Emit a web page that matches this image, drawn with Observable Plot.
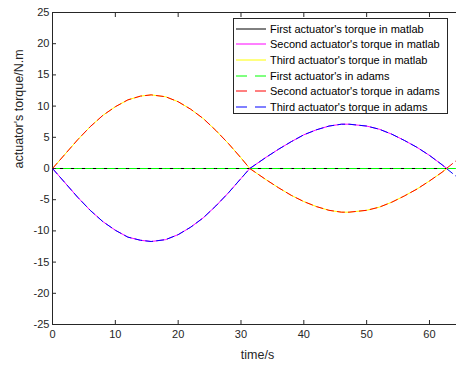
<!DOCTYPE html>
<html><head><meta charset="utf-8">
<script src="https://cdn.jsdelivr.net/npm/d3@7"></script>
<script src="https://cdn.jsdelivr.net/npm/@observablehq/plot@0.6"></script>
<style>
body{margin:0;background:#fff;font-family:"Liberation Sans",Arial,sans-serif;}
#wrap{position:relative;width:456px;height:369px;overflow:hidden;}
#legend{position:absolute;left:233px;top:18px;width:215px;height:96px;border:1px solid #262626;background:#fff;box-sizing:border-box;padding-top:2px;}
.row{height:15.6px;display:flex;align-items:center;font-size:11px;color:#000;white-space:nowrap;}
.row svg{margin:0 3px 0 1px;flex:none}
</style></head><body><div id="wrap"></div>
<script>
// ---- data ----
const timeMatlab = [0,2,4,6,8,10,12,14,15.7,18,20,22,24,26,28,30,31.4,34,36,38,40,42,44,46,47.2,50,52,54,56,58,60,62,62.8];
const firstMatlab  = [0,0,0,0,0,0,0,0,0,0,0,0,0,0,0,0,0,0,0,0,0,0,0,0,0,0,0,0,0,0,0,0,0];
const secondMatlab = [0,-2.3,-4.6,-6.7,-8.5,-9.9,-11.0,-11.5,-11.7,-11.4,-10.6,-9.4,-7.9,-6.0,-3.9,-1.6,0,1.8,3.1,4.3,5.4,6.2,6.8,7.1,7.1,6.8,6.3,5.5,4.5,3.4,2.1,0.6,0];
const thirdMatlab  = [0,2.3,4.6,6.7,8.5,9.9,11.0,11.6,11.8,11.5,10.7,9.5,8.0,6.1,4.0,1.7,0,-1.8,-3.1,-4.3,-5.3,-6.1,-6.7,-7.0,-7.0,-6.7,-6.2,-5.4,-4.4,-3.3,-2.0,-0.6,0];

const timeAdams = [0,2,4,6,8,10,12,14,15.7,18,20,22,24,26,28,30,31.4,34,36,38,40,42,44,46,47.2,50,52,54,56,58,60,62,62.7,64.3];
const firstAdams  = [0,0,0,0,0,0,0,0,0,0,0,0,0,0,0,0,0,0,0,0,0,0,0,0,0,0,0,0,0,0,0,0,0,0];
const secondAdams = [0,2.3,4.6,6.7,8.5,9.9,11.0,11.6,11.8,11.5,10.7,9.5,8.0,6.1,4.0,1.7,0,-1.8,-3.1,-4.3,-5.3,-6.1,-6.7,-7.0,-7.0,-6.7,-6.2,-5.4,-4.4,-3.3,-2.0,-0.6,0,1.3];
const thirdAdams  = [0,-2.3,-4.6,-6.7,-8.5,-9.9,-11.0,-11.5,-11.7,-11.4,-10.6,-9.4,-7.9,-6.0,-3.9,-1.6,0,1.8,3.1,4.3,5.4,6.2,6.8,7.1,7.1,6.8,6.3,5.5,4.5,3.4,2.1,0.6,0,-1.3];

const seriesNames = [
  "First actuator's torque in matlab",
  "Second actuator's torque in matlab",
  "Third actuator's torque in matlab",
  "First actuator's in adams",
  "Second actuator's torque in adams",
  "Third actuator's torque in adams"
];
const xTicks = [0,10,20,30,40,50,60];
const yTicks = [-25,-20,-15,-10,-5,0,5,10,15,20,25];
const xLabel = "time/s";
const yLabel = "actuator's torque/N.m";

// ---- styles ----
const colors = ["#000000","#ff00ff","#ffff00","#00ff00","#ff0000","#0000ff"];
const dashed = [false,false,false,true,true,true];
const dashArray = "7,4";
const legendDash = "11,8";

const pack = (ts, vs) => ts.map((t, i) => ({t, v: vs[i]}));
const series = [
  pack(timeMatlab, firstMatlab),
  pack(timeMatlab, secondMatlab),
  pack(timeMatlab, thirdMatlab),
  pack(timeAdams, firstAdams),
  pack(timeAdams, secondAdams),
  pack(timeAdams, thirdAdams)
];

const tickColor = "#262626";
const fmt = d => String(d);
const marks = [
  Plot.ruleY([-25, 25], {stroke: tickColor, strokeWidth: 1}),
  Plot.ruleX([0], {stroke: tickColor, strokeWidth: 1}),
  ...series.map((d, i) => Plot.line(d, {
    x: "t", y: "v", stroke: colors[i], strokeWidth: 1,
    strokeDasharray: dashed[i] ? dashArray : null, clip: true
  })),
  Plot.axisX({ticks: xTicks, tickSize: -4, tickPadding: 10, fontSize: 11, color: tickColor, label: null, tickFormat: fmt}),
  Plot.axisX({ticks: xTicks, anchor: "top", tickSize: -4, tickFormat: () => "", color: tickColor, label: null}),
  Plot.axisY({ticks: yTicks, tickSize: -4, tickPadding: 7, fontSize: 11, color: tickColor, label: null, tickFormat: fmt}),
  Plot.text([yLabel], {frameAnchor: "left", rotate: -90, dx: -34, fontSize: 12.5, fill: tickColor}),
  Plot.text([xLabel], {frameAnchor: "bottom", dy: 34, dx: 3, fontSize: 12.5, fill: tickColor})
];

const chart = Plot.plot({
  width: 456, height: 369,
  marginLeft: 52, marginRight: 0, marginTop: 12, marginBottom: 45,
  style: {background: "#fff", fontFamily: "'Liberation Sans', Arial, sans-serif"},
  x: {domain: [0, 64.3]},
  y: {domain: [-25, 25]},
  marks
});
const wrap = document.getElementById("wrap");
wrap.appendChild(chart);

// legend
const leg = document.createElement("div");
leg.id = "legend";
seriesNames.forEach((name, i) => {
  const row = document.createElement("div");
  row.className = "row";
  row.innerHTML = `<svg width="32" height="6"><line x1="1" y1="3" x2="31" y2="3" stroke="${colors[i]}" stroke-width="1" ${dashed[i] ? `stroke-dasharray="${legendDash}"` : ""}/></svg><span>${name}</span>`;
  leg.appendChild(row);
});
wrap.appendChild(leg);
</script></body></html>
